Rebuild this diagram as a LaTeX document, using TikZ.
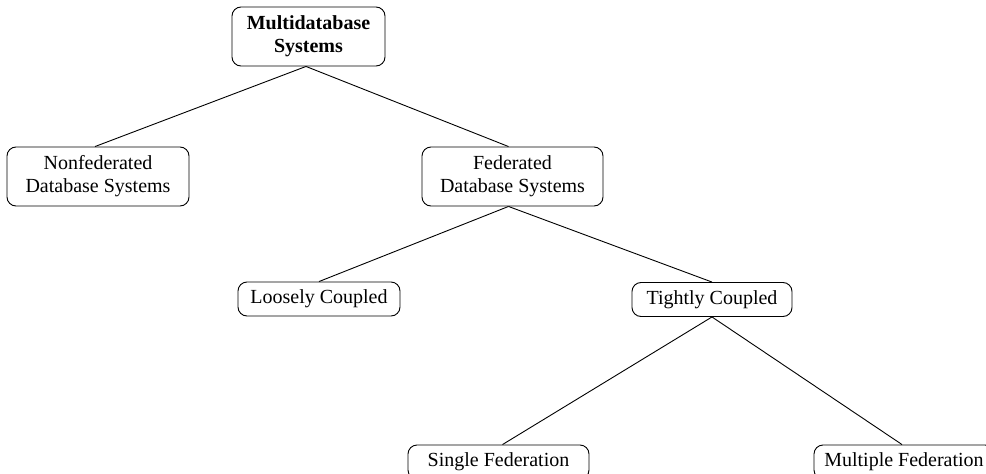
\documentclass[tikz,border=0pt]{standalone}
\usepackage{fontspec}
\setmainfont{Liberation Serif}

\begin{document}
\begin{tikzpicture}[
    x=1pt, y=-1pt,
    box/.style={rectangle, rounded corners=9pt, draw=black, line width=0.9pt, inner sep=0pt, minimum height=34pt, font=\fontsize{20}{23}\selectfont, align=center},
    tallbox/.style={box, minimum height=59pt},
    link/.style={line width=0.9pt}
]
\useasboundingbox (0,0) rectangle (986,474);
\clip (0,0) rectangle (986,474);

\node[tallbox, minimum width=153pt, font=\fontsize{20}{23}\selectfont\bfseries] (multi) at (308.5,36.5) {Multidatabase\\Systems};
\node[tallbox, minimum width=182pt] (nonfed) at (98,176.5) {Nonfederated\\Database Systems};
\node[tallbox, minimum width=181pt] (fed) at (512.5,176.5) {Federated\\Database Systems};
\node[box, minimum width=162pt] (loose) at (319,299) {Loosely Coupled};
\node[box, minimum width=160pt] (tight) at (712,299.5) {Tightly Coupled};
\node[box, minimum width=181pt] (single) at (498.5,462) {Single Federation};
\node[box, minimum width=180pt] (multiple) at (904,462) {Multiple Federation};

\draw[link] ([xshift=-2.5pt]multi.south) -- ([xshift=-3pt]nonfed.north);
\draw[link] ([xshift=-2.5pt]multi.south) -- ([xshift=-4pt]fed.north);
\draw[link] ([xshift=-4pt]fed.south) -- (loose.north);
\draw[link] ([xshift=-4pt]fed.south) -- (tight.north);
\draw[link] (tight.south) -- ([xshift=4pt]single.north);
\draw[link] (tight.south) -- ([xshift=-2pt]multiple.north);

\end{tikzpicture}
\end{document}
